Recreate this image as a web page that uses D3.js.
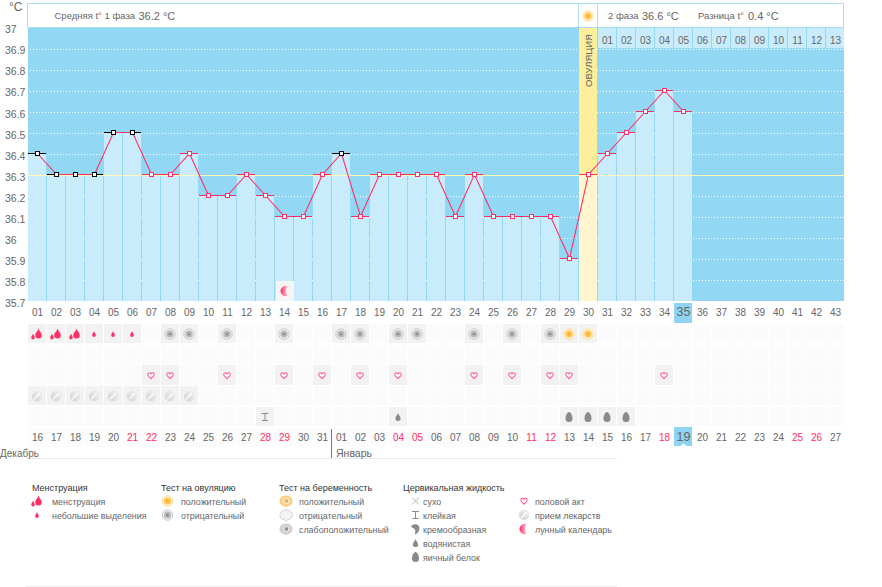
<!DOCTYPE html>
<html><head><meta charset="utf-8">
<script src="https://cdn.jsdelivr.net/npm/d3@7/dist/d3.min.js"></script>
<style>
html,body{margin:0;padding:0;background:#fff;overflow:hidden}
svg{display:block}
text{font-family:"Liberation Sans",sans-serif;font-size:10px;fill:#666}
</style></head><body>
<svg id="c" width="882" height="587"></svg>
<script>
// ---------- data ----------
const temps=[36.4,36.3,36.3,36.3,36.5,36.5,36.3,36.3,36.4,36.2,36.2,36.3,36.2,36.1,36.1,36.3,36.4,36.1,36.3,36.3,36.3,36.3,36.1,36.3,36.1,36.1,36.1,36.1,35.9,36.3,36.4,36.5,36.6,36.7,36.6];
const excludedDays=[1,2,3,4,5,6,17];
const yTicks=[37,36.9,36.8,36.7,36.6,36.5,36.4,36.3,36.2,36.1,36,35.9,35.8,35.7];
const cycleDays=d3.range(1,44);
const dateLabels=["16","17","18","19","20","21","22","23","24","25","26","27","28","29","30","31","01","02","03","04","05","06","07","08","09","10","11","12","13","14","15","16","17","18","19","20","21","22","23","24","25","26","27"];
const weekendDays=[6,7,13,14,20,21,27,28,34,41,42];
const phaseTwoLabels=["01","02","03","04","05","06","07","08","09","10","11","12","13"];
const ovulationDay=30, todayDay=35, moonDay=14;
const rows=["flow","pregnancy","sex","pills","mucus"];
const flowHeavy=[1,2,3], flowLight=[4,5,6];
const ovuNegative=[8,9,11,14,17,18,20,21,24,26,28], ovuPositive=[29,30];
const sexDays=[7,8,11,14,16,18,20,24,26,28,29,34];
const pillDays=[1,2,3,4,5,6,7,8,9];
const stickyDays=[13], wateryDays=[20], eggDays=[29,30,31,32];
const months=["Декабрь","Январь"];
const legendTitles=["Менструация","Тест на овуляцию","Тест на беременность","Цервикальная жидкость"];
const legendFlow=["менструация","небольшие выделения"];
const legendOvu=["положительный","отрицательный"];
const legendPreg=["положительный","отрицательный","слабоположительный"];
const legendMucus=["сухо","клейкая","кремообразная","водянистая","яичный белок"];
const legendOther=["половой акт","прием лекарств","лунный календарь"];
const phaseOne={label:"Средняя t° 1 фаза",value:"36.2 °C"};
const phaseTwo={label:"2 фаза",value:"36.6 °C"};
const phaseDiff={label:"Разница t°",value:"0.4 °C"};

// ---------- scales ----------
const FONT='"Liberation Sans",sans-serif';
const svg=d3.select("#c");
const x=d3.scaleBand().domain(cycleDays).range([28,845]);
const y=d3.scaleLinear().domain([35.7,37]).range([301,27.5]);
const rowY=d3.scaleBand().domain(rows).range([324,426]).paddingInner(0.08);
const cx=d=>x(d)+9.5;
const my=v=>Math.round(y(v)-0.5);
const PINK="#ff2f66",BG="#92d8f5",BAR="#c9ecfd";

const defs=svg.append("defs");
const mg=defs.append("linearGradient").attr("id","moon");
mg.append("stop").attr("offset","0").attr("stop-color","#ff2f66");
mg.append("stop").attr("offset","1").attr("stop-color","#ffc4d4");
const pg=defs.append("linearGradient").attr("id","pill").attr("x1",0).attr("y1",1).attr("x2",1).attr("y2",0);
pg.append("stop").attr("offset","0").attr("stop-color","#cfcfcf");
pg.append("stop").attr("offset","1").attr("stop-color","#f4f4f4");

// ---------- plot ----------
const crisp=s=>s.attr("shape-rendering","crispEdges");
crisp(svg.append("rect").attr("x",28).attr("y",28).attr("width",816).attr("height",273).attr("fill",BG));
// dotted grid
yTicks.slice(1).forEach(v=>{
  crisp(svg.append("line").attr("x1",30).attr("x2",844).attr("y1",Math.round(y(v))+.5).attr("y2",Math.round(y(v))+.5)
    .attr("stroke","#fff").attr("stroke-dasharray","1 2"));
});
// ovulation column
crisp(svg.append("rect").attr("x",x(ovulationDay)).attr("y",28).attr("width",18).attr("height",273).attr("fill","#fdee9c"));
// bars
crisp(svg.append("g").selectAll("rect").data(temps).join("rect")
  .attr("x",(d,i)=>x(i+1)).attr("width",18)
  .attr("y",d=>my(d)).attr("height",d=>301-my(d))
  .attr("fill",(d,i)=>i+1===ovulationDay?"#fff6cf":BAR));
// cover line
crisp(svg.append("line").attr("x1",28).attr("x2",845).attr("y1",175.5).attr("y2",175.5).attr("stroke","#fdf8b8"));
// phase-two header row
crisp(svg.append("g").selectAll("rect").data(phaseTwoLabels).join("rect")
  .attr("x",(d,i)=>x(31+i)).attr("width",18).attr("y",28).attr("height",20).attr("fill",BAR));
const p2=d3.scaleBand().domain(phaseTwoLabels).range([x(31),x(43)+19]);
const p2a=svg.append("g").attr("transform","translate(0,40)").call(d3.axisBottom(p2).tickSize(0).tickPadding(0));
p2a.select(".domain").remove();
p2a.selectAll("text").attr("dy","0").attr("y",3.5).style("font-family",FONT).style("font-size","10px").style("fill","#666");

// moon on chart
crisp(svg.append("rect").attr("x",x(moonDay)+1).attr("y",281).attr("width",18).attr("height",20).attr("fill","#f5f5f5"));
function moon(g,px,py){g.append("path").attr("transform",`translate(${px},${py})`)
  .attr("d","M2.5,-5 A5.3,5.3 0 1 0 2.5,5 A10,10 0 0 1 2.5,-5Z").attr("fill","url(#moon)");}
moon(svg,cx(moonDay)+.5,291);

// temperature ticks, line, markers
const isEx=i=>excludedDays.includes(i+1);
crisp(svg.append("g").selectAll("line").data(temps).join("line")
  .attr("x1",(d,i)=>x(i+1)).attr("x2",(d,i)=>x(i+1)+18)
  .attr("y1",d=>my(d)+.5).attr("y2",d=>my(d)+.5)
  .attr("stroke",(d,i)=>isEx(i)?"#000":PINK));
svg.append("path").datum(temps)
  .attr("d",d3.line().x((d,i)=>cx(i+1)).y(d=>my(d)+.5))
  .attr("fill","none").attr("stroke",PINK).attr("stroke-width",1.1);
crisp(svg.append("g").selectAll("rect").data(temps).join("rect")
  .attr("x",(d,i)=>Math.floor(cx(i+1))-2+.5).attr("y",d=>my(d)-2+.5)
  .attr("width",4).attr("height",4).attr("fill","#fff")
  .attr("stroke",(d,i)=>isEx(i)?"#000":PINK));

// y axis
const ya=svg.append("g").attr("transform","translate(5,2)").call(d3.axisLeft(y).tickValues(yTicks).tickFormat(d=>String(d)).tickSize(0).tickPadding(0));
ya.select(".domain").remove();
ya.selectAll("text").attr("text-anchor","start").attr("x",0).style("font-family",FONT).style("font-size","10.5px").style("fill","#666");
svg.append("text").attr("x",9).attr("y",11).style("font-size","12px").text("°C");

// ---------- icons ----------
function drop(g,px,py,w,h,fill){
  const t=py-h/2,b=py+h/2,r=w/2;
  g.append("path").attr("d",`M${px},${t}C${px+r*.2},${t+h*.3} ${px+r},${t+h*.4} ${px+r},${b-r}A${r},${r} 0 0 1 ${px-r},${b-r}C${px-r},${t+h*.4} ${px-r*.2},${t+h*.3} ${px},${t}Z`).attr("fill",fill);
}
function flowBig(g,px,py){drop(g,px+1.5,py-.5,6.5,10,"#ff2f66");drop(g,px-4,py+2.5,3.5,6,"#ff2f66");}
function flowSmall(g,px,py){drop(g,px,py,3.6,6,"#ff2f66");}
function ovu(g,px,py,pos){
  g.append("circle").attr("cx",px).attr("cy",py).attr("r",5.2).attr("fill","#fff").attr("stroke",pos?"#fdd98a":"#c4c4c4").attr("stroke-width",1);
  g.append("circle").attr("cx",px).attr("cy",py).attr("r",3.8).attr("fill",pos?"#ffc95c":"#bdbdbd");
  g.append("circle").attr("cx",px).attr("cy",py).attr("r",1.5).attr("fill",pos?"#f7a92e":"#8f8f8f");
}
function heart(g,px,py){
  g.append("path").attr("transform",`translate(${px},${py}) scale(.8)`)
   .attr("d","M0,4 L-3.6,0.2 C-5,-1.8 -3.2,-3.6 -1.6,-3.3 C-0.8,-3.2 -0.3,-2.6 0,-2 C0.3,-2.6 0.8,-3.2 1.6,-3.3 C3.2,-3.6 5,-1.8 3.6,0.2 Z")
   .attr("fill","#fff").attr("stroke","#ff5c8c").attr("stroke-width",1.3);
}
function pill(g,px,py){
  g.append("circle").attr("cx",px).attr("cy",py).attr("r",4.9).attr("fill","url(#pill)").attr("stroke","#dcdcdc").attr("stroke-width",.5);
  g.append("line").attr("x1",px-3).attr("y1",py+3).attr("x2",px+3).attr("y2",py-3).attr("stroke","#fff").attr("stroke-width",1.2);
}
function sticky(g,px,py){
  g.append("path").attr("d",`M${px-3.5},${py-3.5}H${px+3.5}M${px-3},${py+3.5}H${px+3}M${px},${py-3.5}V${py+3.5}`).attr("stroke","#8a8a8a").attr("stroke-width",1).attr("fill","none");
}
function watery(g,px,py){drop(g,px,py,5.2,8,"#8a8a8a");}
function egg(g,px,py){g.append("path").attr("transform",`translate(${px},${py})`).attr("d","M0,-5 C2,-5 3.5,-1 3.5,1.5 A3.5,3.5 0 0 1 -3.5,1.5 C-3.5,-1 -2,-5 0,-5Z").attr("fill","#8a8a8a");}
function dry(g,px,py){g.append("path").attr("d",`M${px-3.5},${py-3.5}L${px+3.5},${py+3.5}M${px+3.5},${py-3.5}L${px-3.5},${py+3.5}`).attr("stroke","#9a9a9a").attr("stroke-width",.7);}
function creamy(g,px,py){g.append("path").attr("transform",`translate(${px},${py})`).attr("d","M-4,-3.5 C-1,-6 4,-5 4,-1 C4,2 2,5 -1,5.5 C0.5,3 0,0.5 -1.5,-0.5 C-3,-1 -4.5,-1.5 -4,-3.5Z").attr("fill","#8a8a8a");}
function preg(g,px,py,kind){
  const f=kind==="pos"?"#fbd68a":kind==="neg"?"#f4f4f4":"#d2d2d2", s=kind==="pos"?"#f3c063":"#c8c8c8";
  g.append("path").attr("transform",`translate(${px},${py})`).attr("d","M0,6 L-2,4.6 C-5,4.4 -6,2 -6,0 C-6,-3.4 -3.4,-5 0,-5 C3.4,-5 6,-3.4 6,0 C6,2 5,4.4 2,4.6Z").attr("fill",f).attr("stroke",s).attr("stroke-width",.8);
  if(kind!=="neg"){g.append("circle").attr("cx",px+.5).attr("cy",py).attr("r",2.4).attr("fill",kind==="pos"?"#e8b060":"#8f8f8f").attr("stroke","#fff").attr("stroke-width",.8);}
}

// ---------- header ----------
const bc="#a9def5";
crisp(svg.append("rect").attr("x",27.5).attr("y",3.5).attr("width",816).attr("height",24).attr("fill","none").attr("stroke",bc));
crisp(svg.append("line").attr("x1",578.5).attr("x2",578.5).attr("y1",3).attr("y2",28).attr("stroke",bc));
crisp(svg.append("line").attr("x1",597.5).attr("x2",597.5).attr("y1",3).attr("y2",28).attr("stroke",bc));
ovu(svg,cx(ovulationDay)-.5,16,true);
svg.append("text").attr("x",54.5).attr("y",19).style("font-size","9.5px").text(phaseOne.label);
svg.append("text").attr("x",138.5).attr("y",19.5).style("font-size","11px").text(phaseOne.value);
svg.append("text").attr("x",608).attr("y",19).style("font-size","9.5px").text(phaseTwo.label);
svg.append("text").attr("x",642).attr("y",19.5).style("font-size","11px").text(phaseTwo.value);
svg.append("text").attr("x",698).attr("y",19).style("font-size","9.5px").text(phaseDiff.label);
svg.append("text").attr("x",748).attr("y",19.5).style("font-size","11px").text(phaseDiff.value);
svg.append("text").attr("transform",`translate(${cx(ovulationDay)+3},60.5) rotate(-90)`).attr("text-anchor","middle").style("font-size","9.5px").text("ОВУЛЯЦИЯ");

// ---------- tracker rows ----------
const grid=svg.append("g");
rows.forEach(r=>crisp(grid.append("g").selectAll("rect").data(cycleDays).join("rect")
  .attr("x",d=>x(d)).attr("y",rowY(r)).attr("width",18).attr("height",rowY.bandwidth()).attr("fill","#fbfbfc")));
function place(days,row,fn){days.forEach(d=>{
  crisp(grid.append("rect").attr("x",x(d)).attr("y",rowY(row)).attr("width",18).attr("height",rowY.bandwidth()).attr("fill","#f2f2f2"));
  fn(grid,cx(d)-.5,rowY(row)+rowY.bandwidth()/2+.5);
});}
place(flowHeavy,"flow",flowBig);
place(flowLight,"flow",flowSmall);
place(ovuNegative,"flow",(g,a,b)=>ovu(g,a,b,false));
place(ovuPositive,"flow",(g,a,b)=>ovu(g,a,b,true));
place(sexDays,"sex",heart);
place(pillDays,"pills",pill);
place(stickyDays,"mucus",sticky);
place(wateryDays,"mucus",watery);
place(eggDays,"mucus",egg);

// ---------- day number axes ----------
crisp(svg.append("g").selectAll("rect").data(cycleDays.slice(0,31)).join("rect")
  .attr("x",d=>x(d)).attr("y",428).attr("width",18).attr("height",19).attr("fill","#fcfcfc"));
crisp(svg.append("rect").attr("x",x(todayDay)).attr("y",303).attr("width",18).attr("height",20).attr("fill","#8fd4f2"));
crisp(svg.append("rect").attr("x",x(todayDay)).attr("y",427).attr("width",18).attr("height",19).attr("fill","#8fd4f2"));
svg.append("path").attr("d",`M${cx(todayDay)-3},446L${cx(todayDay)},443.5L${cx(todayDay)+3},446Z`).attr("fill","#fff");
function dayAxis(yPos,fmt,red){
  const a=svg.append("g").attr("transform",`translate(0,${yPos})`).call(d3.axisBottom(x).tickFormat(fmt).tickSize(0).tickPadding(0));
  a.select(".domain").remove();
  a.selectAll("text").attr("y",3.5).attr("dy","0")
   .style("font-family",FONT)
   .style("font-size",d=>d===todayDay?"12.5px":"10px")
   .style("fill",d=>red&&red.includes(d)?"#ff2f66":"#666");
}
dayAxis(312.5,d=>String(d).padStart(2,"0"),null);
dayAxis(437.5,d=>dateLabels[d-1],weekendDays);

// months
crisp(svg.append("line").attr("x1",27).attr("x2",617).attr("y1",458.5).attr("y2",458.5).attr("stroke","#e8e8e8"));
crisp(svg.append("line").attr("x1",331.5).attr("x2",331.5).attr("y1",429).attr("y2",458).attr("stroke","#777"));
svg.append("text").attr("x",0).attr("y",456.5).text(months[0]);
svg.append("text").attr("x",336).attr("y",457).style("font-size","10.5px").text(months[1]);
crisp(svg.append("line").attr("x1",26).attr("x2",617).attr("y1",586.5).attr("y2",586.5).attr("stroke","#eeeeee"));

// ---------- legend ----------
const titleX=[32,161,279,403], lineY=d3.scalePoint().domain([0,1,2,3,4]).range([501,557]);
legendTitles.forEach((t,i)=>svg.append("text").attr("x",titleX[i]).attr("y",490.5).style("font-size","9px").style("fill","#333").text(t));
function legendCol(labels,tx,ix,fns){labels.forEach((l,i)=>{
  svg.append("text").attr("x",tx).attr("y",lineY(i)+3.5).style("font-size","8.9px").text(l);
  fns[i](svg,ix,lineY(i));
});}
legendCol(legendFlow,52,37,[flowBig,flowSmall]);
legendCol(legendOvu,181,167.5,[(g,a,b)=>ovu(g,a,b,true),(g,a,b)=>ovu(g,a,b,false)]);
legendCol(legendPreg,299,286,[(g,a,b)=>preg(g,a,b,"pos"),(g,a,b)=>preg(g,a,b,"neg"),(g,a,b)=>preg(g,a,b,"weak")]);
legendCol(legendMucus,423,415.5,[dry,sticky,creamy,watery,egg]);
legendCol(legendOther,535,524,[heart,pill,moon]);
</script>
</body></html>
